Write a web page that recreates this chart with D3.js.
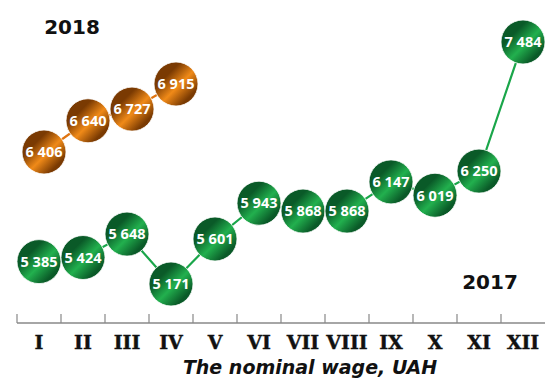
<!DOCTYPE html>
<html><head><meta charset="utf-8">
<script src="https://cdn.jsdelivr.net/npm/d3@7"></script>
<style>body{margin:0;background:#fff}svg{display:block}</style>
</head><body>
<script>
const months = ["I","II","III","IV","V","VI","VII","VIII","IX","X","XI","XII"];
const wage2017 = [5385,5424,5648,5171,5601,5943,5868,5868,6147,6019,6250,7484];
const wage2018 = [6406,6640,6727,6915];
const labelsYear = ["2017","2018"];
const title = "The nominal wage, UAH";

const W = 545, H = 379;
const svg = d3.select("body").append("svg").attr("width", W).attr("height", H);
const defs = svg.append("defs");

function grad(id, dark, light) {
  const g = defs.append("linearGradient").attr("id", id)
    .attr("x1", "0%").attr("y1", "0%").attr("x2", "100%").attr("y2", "100%");
  g.append("stop").attr("offset", "0%").attr("stop-color", dark);
  g.append("stop").attr("offset", "30%").attr("stop-color", dark);
  g.append("stop").attr("offset", "55%").attr("stop-color", light);
  g.append("stop").attr("offset", "80%").attr("stop-color", dark);
  g.append("stop").attr("offset", "100%").attr("stop-color", dark);
}
grad("gGreen", "#0a5a28", "#22b04e");
grad("gOrange", "#7a3a02", "#f08a18");

const x = d3.scaleBand().domain(months).range([17, 545]).paddingInner(0).paddingOuter(0);
const y17 = d3.scaleLinear().domain([5171, 7484]).range([284, 42]);
const y18 = d3.scaleLinear().domain([6406, 6915]).range([152, 84]);

// axis
const axisG = svg.append("g").attr("transform", "translate(0,323)")
  .call(d3.axisBottom(x).tickSize(0).tickPadding(13));
axisG.select(".domain").attr("stroke", "#888").attr("stroke-width", 1.5).attr("d", "M17,0H545");
axisG.selectAll(".tick text")
  .attr("font-family", "DejaVu Serif").attr("font-weight", "bold")
  .attr("font-size", 19).attr("fill", "#111")
  .attr("stroke", "#111").attr("stroke-width", 0.4);
// boundary ticks
svg.append("g").selectAll("line").data(months).join("line")
  .attr("x1", d => x(d)).attr("x2", d => x(d))
  .attr("y1", 314).attr("y2", 323)
  .attr("stroke", "#888").attr("stroke-width", 1.2);

const fmt = v => d3.format(",")(v).replace(",", " ");

function series(data, yScale, xOff, gradId, lineColor) {
  const cx = (d, i) => x(months[i]) + x.bandwidth() / 2 + xOff;
  const line = d3.line().x((d, i) => cx(d, i)).y(d => yScale(d));
  svg.append("path").datum(data).attr("d", line)
    .attr("fill", "none").attr("stroke", lineColor).attr("stroke-width", 2.2);
  const g = svg.append("g").selectAll("g").data(data).join("g")
    .attr("transform", (d, i) => `translate(${cx(d, i)},${yScale(d)})`);
  g.append("circle").attr("r", 22).attr("fill", `url(#${gradId})`)
    .attr("stroke", "#fff").attr("stroke-width", 0.8);
  g.append("text").text(fmt).attr("text-anchor", "middle").attr("dy", "0.36em")
    .attr("font-family", "Open Sans").attr("font-weight", "bold")
    .attr("font-size", 14.5).attr("fill", "#fff");
}
series(wage2017, y17, 0, "gGreen", "#1aa64a");
series(wage2018, y18, 5, "gOrange", "#e07410");

svg.append("text").text(labelsYear[1]).attr("x", 72).attr("y", 34)
  .attr("text-anchor", "middle").attr("font-family", "DejaVu Sans").attr("font-weight", "bold")
  .attr("font-size", 20).attr("fill", "#111");
svg.append("text").text(labelsYear[0]).attr("x", 490).attr("y", 289)
  .attr("text-anchor", "middle").attr("font-family", "DejaVu Sans").attr("font-weight", "bold")
  .attr("font-size", 20).attr("fill", "#111");
svg.append("text").text(title).attr("x", 310).attr("y", 374)
  .attr("text-anchor", "middle").attr("font-family", "DejaVu Sans").attr("font-weight", "bold")
  .attr("font-style", "italic").attr("font-size", 19).attr("fill", "#111");
</script>
</body></html>
